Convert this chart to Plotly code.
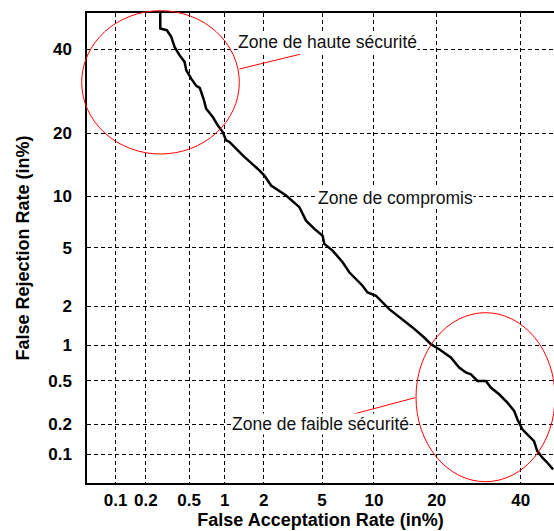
import plotly.graph_objects as go
from statistics import NormalDist

# ---- data (in %) ----
far_pct = [0.273, 0.274, 0.315, 0.346, 0.371, 0.411, 0.456, 0.472, 0.522, 0.577,
           0.619, 0.666, 0.702, 0.798, 0.877, 0.963, 1.027, 1.092, 1.39, 1.758,
           1.86, 2.025, 2.267, 2.894, 3.565, 3.945, 4.47, 5.04, 5.164, 5.809,
           6.672, 7.293, 8.669, 9.237, 10.25, 12.01, 14.24, 15.59, 17.62, 18.86,
           20.47, 22.86, 24.67, 26.16, 27.33, 28.86, 30.93, 32.15, 34.27, 36.41,
           38.21, 39.07, 40.41, 41.79, 43.61, 44.51, 45.93, 47.32, 48.91]
frr_pct = [55, 45.70, 45.21, 43.38, 40.63, 38.39, 36.61, 34.44, 32.30, 30.50,
           30.00, 27.46, 25.15, 23.33, 21.58, 20.23, 18.62, 18.33, 15.94, 14.04,
           13.52, 12.76, 11.36, 10.06, 8.70, 7.30, 6.53, 5.95, 5.30, 4.81,
           4.05, 3.474, 2.812, 2.523, 2.388, 1.908, 1.557, 1.386, 1.155, 1.021,
           0.929, 0.794, 0.653, 0.592, 0.572, 0.500, 0.500, 0.437, 0.380, 0.319,
           0.267, 0.2225, 0.178, 0.159, 0.136, 0.108, 0.0925, 0.082, 0.0698]
tick_pct = [0.1, 0.2, 0.5, 1, 2, 5, 10, 20, 40]
tick_labels = ["0.1", "0.2", "0.5", "1", "2", "5", "10", "20", "40"]
axis_min_pct = 0.05
axis_max_pct = 50

zone_labels = ["Zone de haute sécurité", "Zone de compromis", "Zone de faible sécurité"]

nd = NormalDist()


def probit(p):
    return nd.inv_cdf(p / 100.0)


# ---- layout geometry ----
W, H = 554, 531
ML, MR, MT, MB = 87, 0, 13, 48
PW, PH = W - ML - MR, H - MT - MB

y0 = probit(axis_min_pct)
y1 = probit(axis_max_pct)
ppu = PH / (y1 - y0)             # pixels per probit unit (square scale)
x0 = y0
x1 = x0 + PW / ppu


def px(x):
    return (x - ML) / PW


def py(y):
    return (H - MB - y) / PH


fig = go.Figure()
fig.add_trace(go.Scatter(
    x=[probit(v) for v in far_pct],
    y=[probit(v) for v in frr_pct],
    mode="lines",
    line=dict(color="black", width=2.5),
    hoverinfo="skip",
))

tick_font = dict(family="Liberation Sans, Arial, sans-serif", size=17, color="black", weight="bold")
title_font = dict(family="Liberation Sans, Arial, sans-serif", size=18, color="black", weight="bold")
tvals = [probit(v) for v in tick_pct]

common = dict(
    tickvals=tvals, ticktext=tick_labels, tickfont=tick_font,
    showgrid=True, gridcolor="black", gridwidth=1, griddash="4px,3px",
    showline=True, linecolor="black", linewidth=1.5,
    zeroline=False, ticks="", automargin=False,
)

fig.update_xaxes(range=[x0, x1], mirror=True, ticklabelstandoff=1,
                 title=dict(text="False Acceptation Rate (in%)", font=title_font, standoff=2),
                 **common)
fig.update_yaxes(range=[y0, y1], mirror=False, ticklabelstandoff=10,
                 title=dict(text="False Rejection Rate (in%)", font=title_font, standoff=14),
                 **common)

ann_font = dict(family="Liberation Sans, Arial, sans-serif", size=17.5, color="#111")
ann_pos = [(236.5, 41.7), (316.5, 198.3), (231, 424)]
for txt, (ax_, ay_) in zip(zone_labels, ann_pos):
    fig.add_annotation(text=txt, xref="paper", yref="paper", x=px(ax_), y=py(ay_),
                       xanchor="left", yanchor="middle", showarrow=False,
                       font=ann_font, bgcolor="white", borderpad=0)

red = dict(color="#ff0000", width=1)
fig.add_shape(type="circle", xref="paper", yref="paper",
              x0=px(81.7), x1=px(239.3), y0=py(154), y1=py(10.7), line=red, layer="above")
fig.add_shape(type="circle", xref="paper", yref="paper",
              x0=px(416), x1=px(555), y0=py(481.7), y1=py(312.7), line=red, layer="above")
fig.add_shape(type="line", xref="paper", yref="paper",
              x0=px(239.3), y0=py(69), x1=px(300), y1=py(54.3), line=red, layer="above")
fig.add_shape(type="line", xref="paper", yref="paper",
              x0=px(350), y0=py(415), x1=px(415), y1=py(397.7), line=red, layer="above")

fig.update_layout(width=W, height=H, margin=dict(l=ML, r=MR, t=MT, b=MB),
                  paper_bgcolor="white", plot_bgcolor="white", showlegend=False)

fig.write_html("out.html", config={"displayModeBar": False},
               post_script="document.body.style.margin='0';document.body.style.overflow='hidden';")
